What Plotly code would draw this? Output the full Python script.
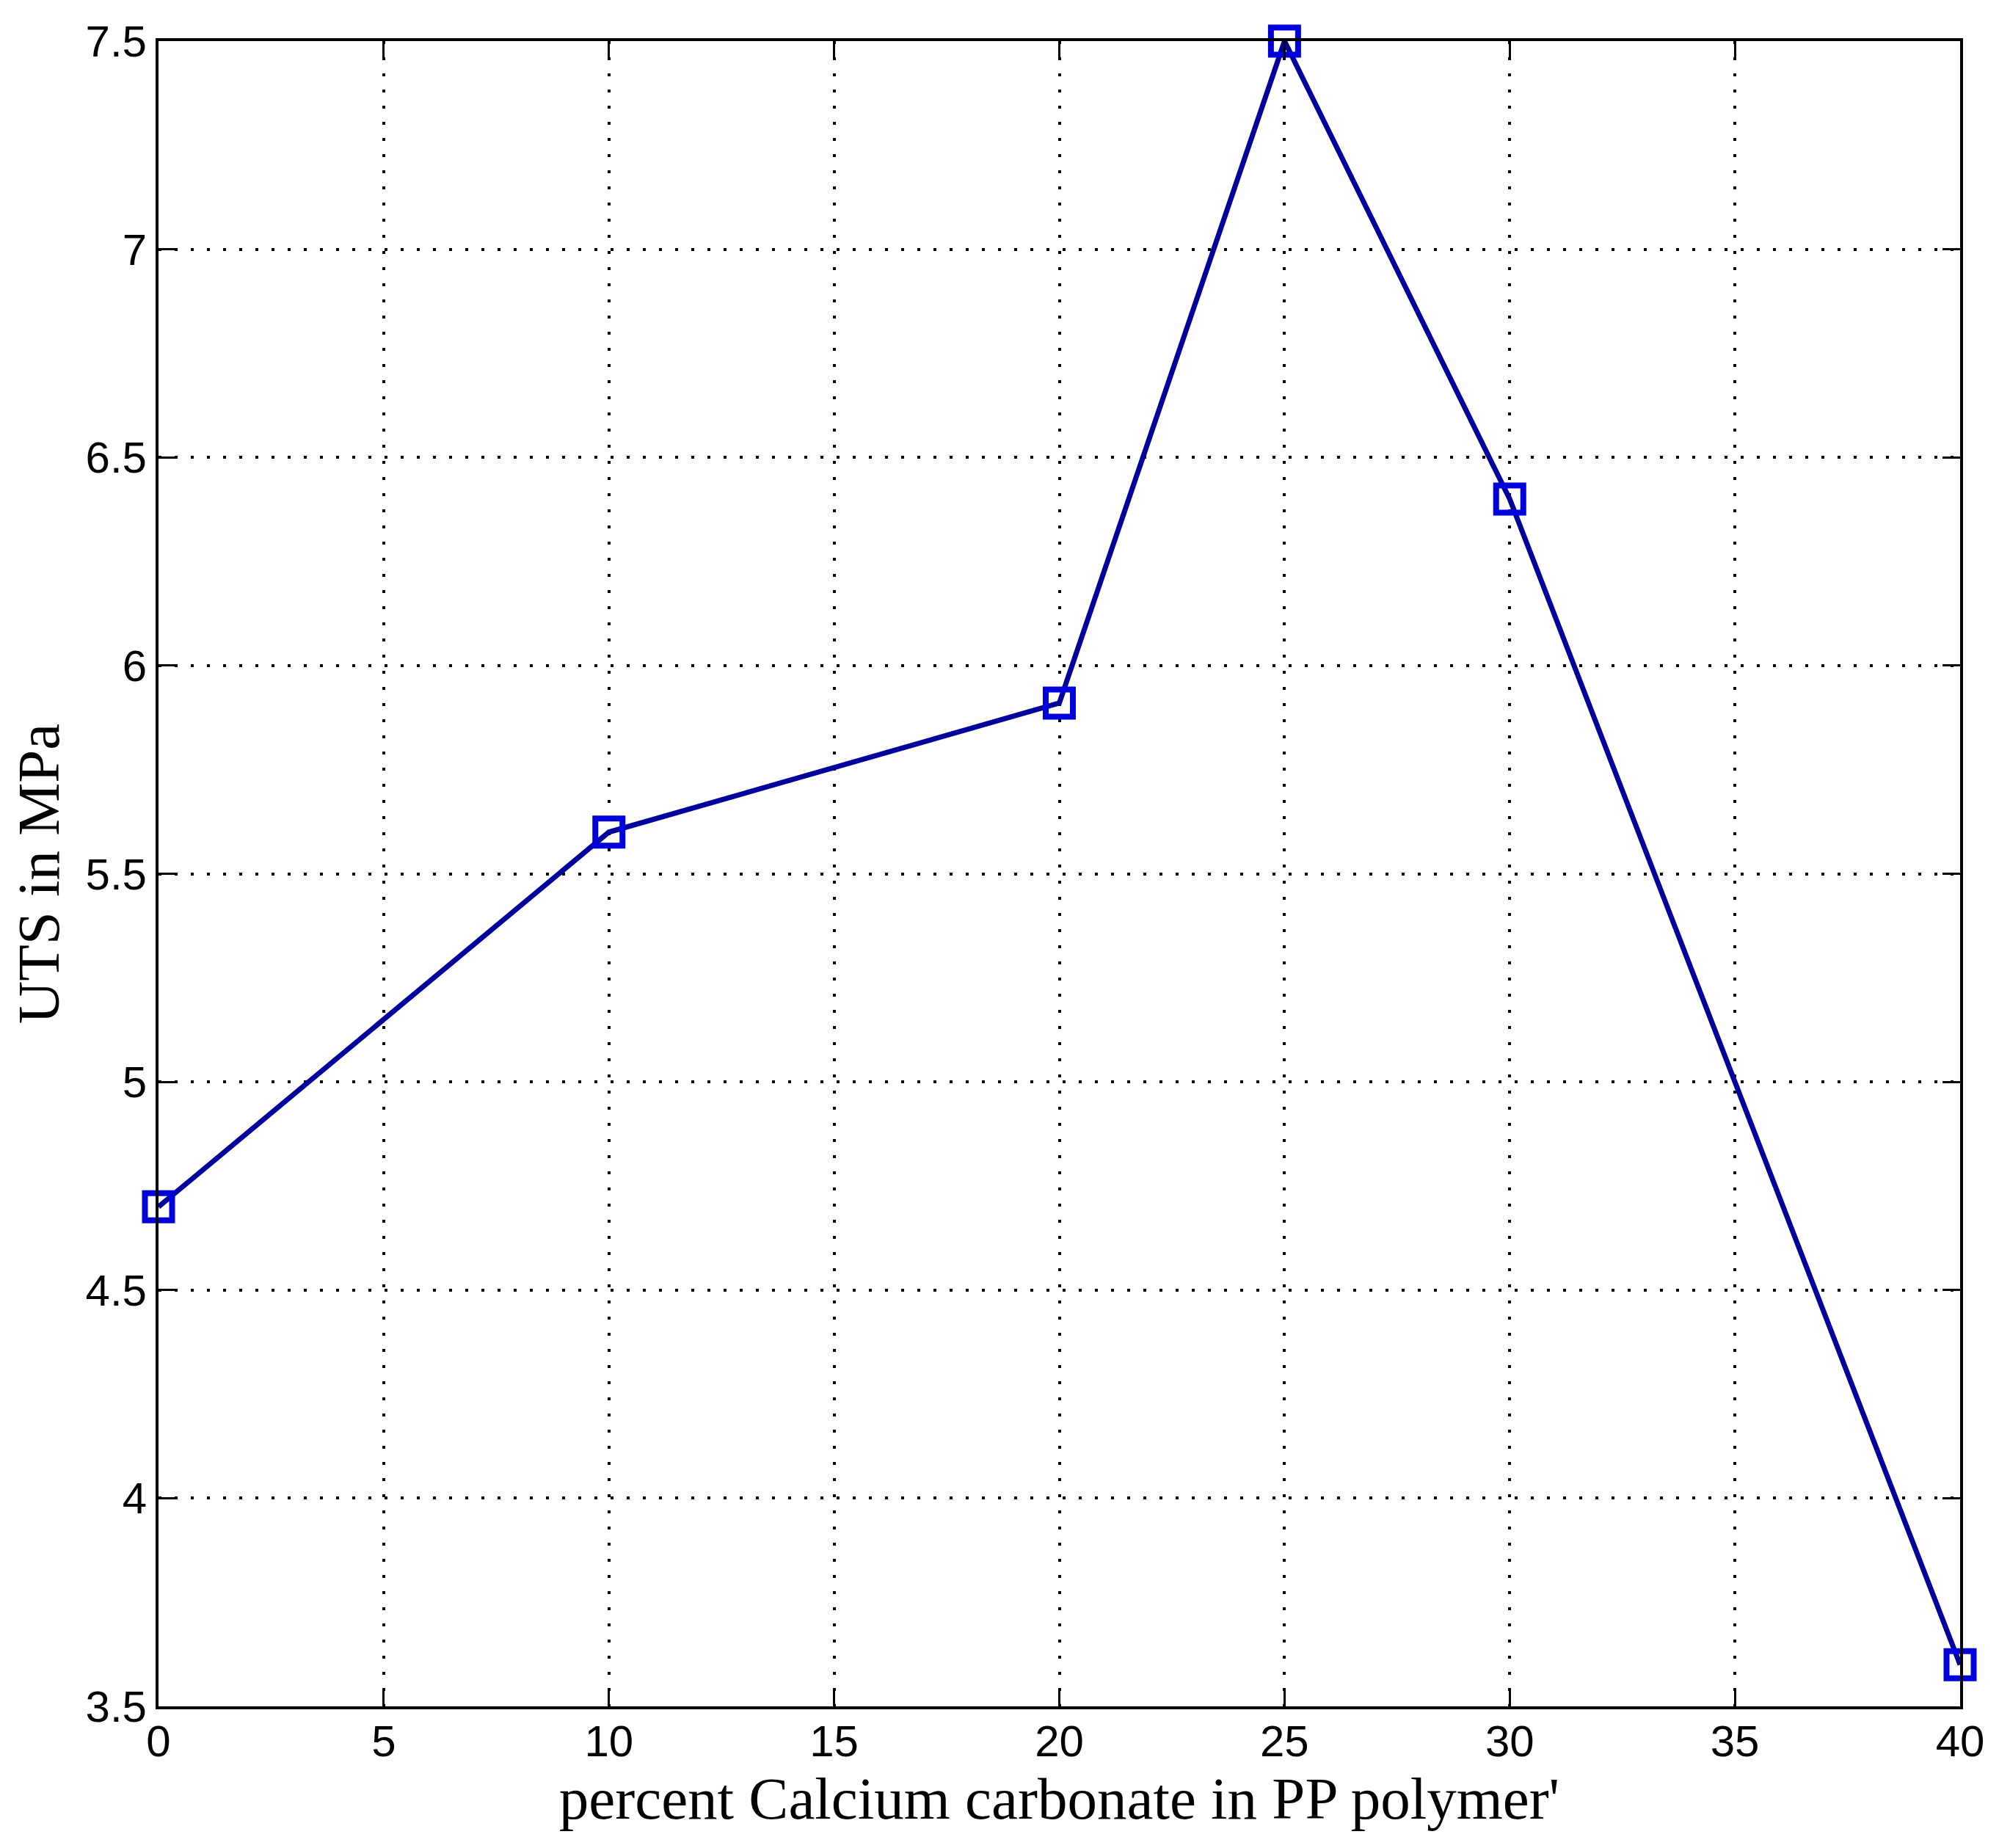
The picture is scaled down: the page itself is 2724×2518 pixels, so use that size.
import plotly.graph_objects as go

# Data
percent_caco3 = [0, 10, 20, 25, 30, 40]
uts_mpa = [4.7, 5.6, 5.91, 7.5, 6.4, 3.6]

x_title = "percent Calcium carbonate in PP polymer'"
y_title = "UTS in MPa"

fig = go.Figure()
fig.add_trace(go.Scatter(
    x=percent_caco3, y=uts_mpa,
    mode="lines+markers",
    line=dict(color="#00009c", width=7),
    marker=dict(symbol="square-open", size=37, color="#0000dd",
                line=dict(color="#0000dd", width=8)),
    cliponaxis=False,
    showlegend=False,
))

axis_common = dict(
    showline=True, linecolor="black", linewidth=4, mirror="ticks",
    ticks="inside", ticklen=24, tickwidth=3, tickcolor="black",
    showgrid=True, gridcolor="black", gridwidth=4, griddash="4px,18px",
    zeroline=False,
    tickfont=dict(family="Liberation Sans, Arial, sans-serif", size=60, color="black"),
)

title_font = dict(family="Liberation Serif, Times New Roman, serif", size=81, color="black")

fig.update_xaxes(range=[0, 40], tick0=0, dtick=5, ticklabelstandoff=-8,
                 title=dict(text=x_title, standoff=0, font=title_font),
                 **axis_common)
fig.update_yaxes(range=[3.5, 7.5], tick0=3.5, dtick=0.5,
                 title=dict(text=y_title, standoff=30, font=title_font),
                 **axis_common)

fig.update_layout(
    width=2708, height=2502,
    margin=dict(l=208, r=37, t=48, b=185),
    paper_bgcolor="white", plot_bgcolor="white",
)

fig.write_html("out.html")
